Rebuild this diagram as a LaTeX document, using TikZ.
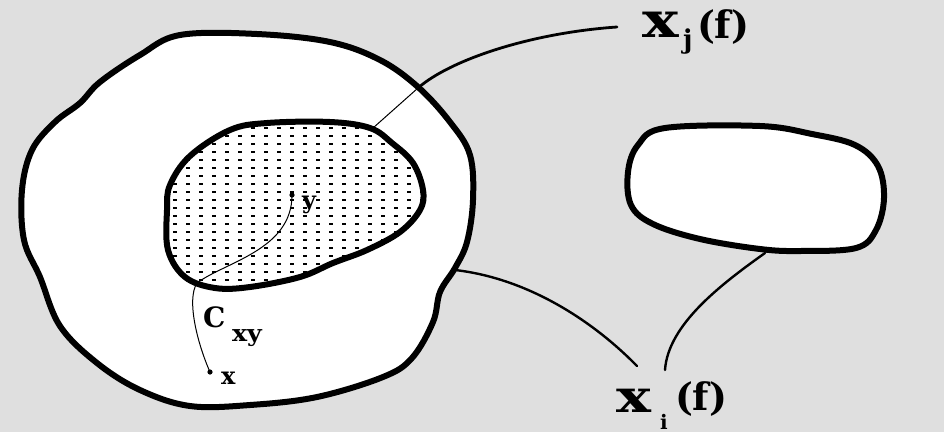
\documentclass[tikz,border=0pt]{standalone}
\usepackage{fontspec}
\usepackage{graphicx}
\newfontfamily\lblfont{DejaVu Serif}
\definecolor{bggray}{HTML}{DFDFDF}
\tikzset{
  blob/.style={fill=white, draw=black, line width=6pt, line join=round},
  conn/.style={draw=black, line width=2.8pt, line cap=round},
  thinconn/.style={draw=black, line width=1pt, line cap=round},
  lbl/.style={anchor=base west, inner sep=0pt, outer sep=0pt},
}
\begin{document}
\begin{tikzpicture}[x=1pt,y=-1pt]
\useasboundingbox (0,0) rectangle (944,432);
\fill[bggray] (0,0) rectangle (944,432);

% outer blob
\path[blob] plot[smooth cycle, tension=0.6] coordinates {
 (32,150) (55,122) (80,103) (100,82) (140,55) (180,35) (257,34) (330,42)
 (380,60) (418,87) (450,122) (470,155) (473,200) (467,242) (455,268)
 (440,292) (433,322) (412,358) (383,377) (317,397) (250,405) (190,406)
 (140,390) (97,363) (60,326) (40,277) (24,240) (22,190)};

% inner dotted blob
\def\innerpath{plot[smooth cycle, tension=0.6] coordinates {
 (170,185) (190,156) (230,130) (267,123) (330,122) (370,128)
 (392,143) (413,163) (423,190) (420,210) (400,232) (367,250) (333,263)
 (300,277) (250,287) (215,288) (185,277) (168,250) (167,210)}}
\fill[white] \innerpath;
\begin{scope}
  \clip \innerpath;
  \foreach \i in {0,...,21}{
    \foreach \k in {0,...,22}{
      \fill[black] ({160+13*\i},{119+8*\k}) rectangle ++(3.5,1.6);
    }
  }
\end{scope}
\draw[black, line width=6pt, line join=round] \innerpath;

% right blob
\path[blob] plot[smooth cycle, tension=0.6] coordinates {
 (628,172) (638,145) (665,128) (760,126) (812,134) (855,145)
 (878,166) (884,198) (876,230) (856,248) (800,251) (760,249) (700,239)
 (653,224) (631,205)};

% named points
\coordinate (it) at (373,128);
\coordinate (jn) at (418,88);
\coordinate (xjend) at (617,27);
\coordinate (oi) at (455,270);
\coordinate (xione) at (637,366);
\coordinate (rb) at (765,253);
\coordinate (xitwo) at (665,370);
\coordinate (px) at (210,372);
\coordinate (py) at (292,195);

% connectors
\draw[thinconn] (it) -- (jn);
\draw[conn] (jn) .. controls (450,60) and (530,33) .. (xjend);
\draw[conn, line width=2.4pt] (oi) .. controls (525,278) and (590,318) .. (xione);
\draw[conn, line width=2.4pt] (rb) .. controls (720,285) and (668,325) .. (xitwo);

% C_xy path
\draw[thinconn] (px) .. controls (198,345) and (186,300) .. (197,283)
   .. controls (225,262) and (292,250) .. (py);
\fill (px) circle (2.6);
\fill (py) circle (2.6);

% small labels
\node[lbl, font=\lblfont\bfseries\fontsize{24}{24}\selectfont] (ly) at (302,208) {y};
\node[lbl, font=\lblfont\bfseries\fontsize{24}{24}\selectfont] (lx) at (221,384) {x};
\node[lbl, font=\lblfont\bfseries\fontsize{28}{28}\selectfont] (lc) at (203,327) {C};
\node[lbl, font=\lblfont\bfseries\fontsize{23}{23}\selectfont] (lcs) at (232,341) {\scalebox{1.1}[1]{xy}};

% X_j(f)
\node[lbl, font=\lblfont\bfseries\fontsize{49}{49}\selectfont] (xj) at (642,37) {\scalebox{1.25}[1]{x}};
\node[lbl, font=\lblfont\bfseries\fontsize{26}{26}\selectfont] (xjs) at (683,48) {j};
\node[lbl, font=\lblfont\bfseries\fontsize{38}{38}\selectfont] (xjf) at (697,38) {(f)};

% X_i(f)
\node[lbl, font=\lblfont\bfseries\fontsize{45}{45}\selectfont] (xi) at (616,412) {\scalebox{1.3}[1]{x}};
\node[lbl, font=\lblfont\bfseries\fontsize{20}{20}\selectfont] (xis) at (660,429) {i};
\node[lbl, font=\lblfont\bfseries\fontsize{38}{38}\selectfont] (xif) at (675,410) {(f)};
\end{tikzpicture}
\end{document}
